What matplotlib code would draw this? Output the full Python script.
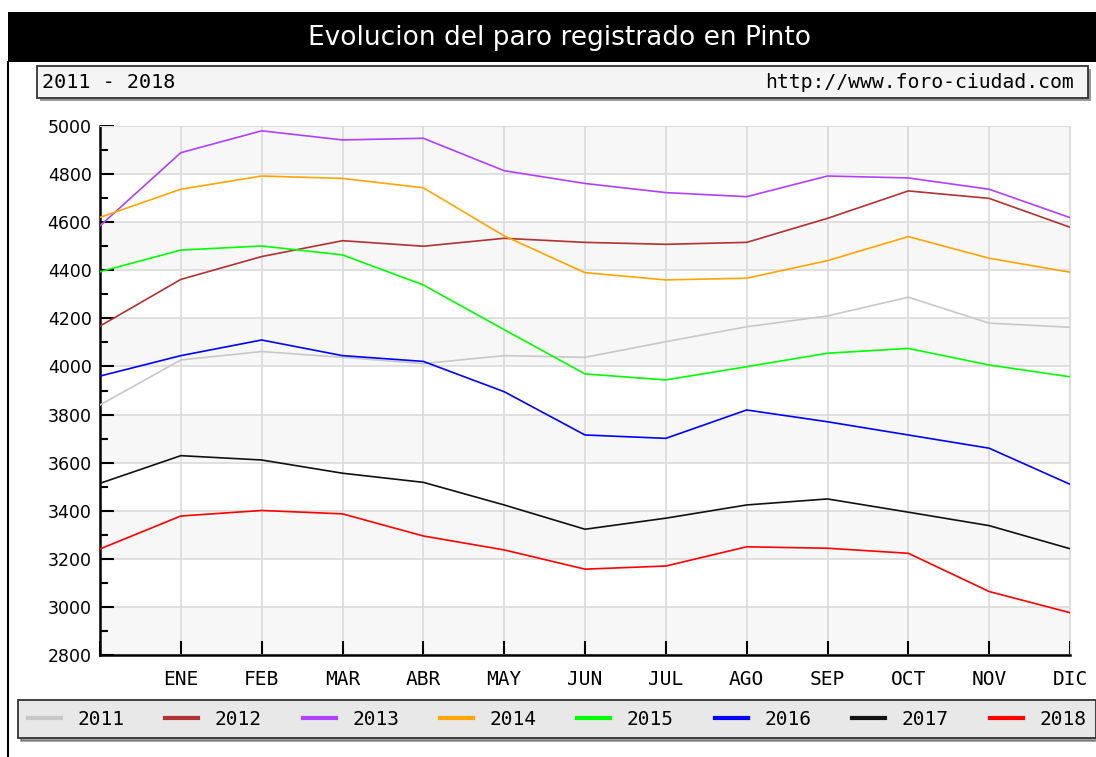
import matplotlib.pyplot as plt
from matplotlib.patches import Rectangle
from matplotlib.lines import Line2D
import numpy as np

W, H = 1096, 757

# datos (punto inicial + ENE..DIC)
meses = ['', 'ENE', 'FEB', 'MAR', 'ABR', 'MAY', 'JUN', 'JUL', 'AGO', 'SEP', 'OCT', 'NOV', 'DIC']
anios = ['2011', '2012', '2013', '2014', '2015', '2016', '2017', '2018']
colores = ['#c8c8c8', '#b03232', '#b040ff', '#ffa500', '#00ff00', '#0000ff', '#111111', '#ff0000']

p2011 = [3840, 4027, 4062, 4038, 4012, 4045, 4038, 4103, 4165, 4210, 4288, 4180, 4163]
p2012 = [4168, 4362, 4457, 4523, 4500, 4533, 4516, 4508, 4516, 4616, 4730, 4699, 4579]
p2013 = [4585, 4889, 4980, 4942, 4949, 4814, 4761, 4723, 4706, 4792, 4784, 4737, 4619]
p2014 = [4620, 4737, 4792, 4782, 4743, 4543, 4390, 4360, 4367, 4440, 4540, 4450, 4392]
p2015 = [4394, 4484, 4501, 4464, 4339, 4153, 3969, 3944, 3999, 4055, 4075, 4006, 3957]
p2016 = [3960, 4045, 4110, 4045, 4021, 3895, 3715, 3701, 3819, 3770, 3715, 3660, 3510]
p2017 = [3514, 3629, 3611, 3556, 3518, 3424, 3323, 3369, 3424, 3449, 3394, 3338, 3242]
p2018 = [3241, 3378, 3401, 3387, 3295, 3237, 3157, 3170, 3250, 3244, 3223, 3064, 2976]
series = [p2011, p2012, p2013, p2014, p2015, p2016, p2017, p2018]

mono = 'DejaVu Sans Mono'

fig = plt.figure(figsize=(W / 100, H / 100), dpi=100)
fig.patch.set_facecolor('white')

def fx(px):
    return px / W

def fy(py):
    return 1 - py / H

# barra del titulo
fig.patches.append(Rectangle((fx(8), fy(62)), fx(W) - fx(8), fy(12) - fy(62),
                             transform=fig.transFigure, facecolor='black',
                             edgecolor='none', zorder=0))
fig.text(fx(560), fy(38), 'Evolucion del paro registrado en Pinto', color='white',
         ha='center', va='center', fontsize=19)
fig.add_artist(Line2D([fx(8), fx(8)], [fy(62), 0], transform=fig.transFigure,
                      color='black', lw=1.5))

# cuadro del subtitulo
fig.patches.append(Rectangle((fx(40), fy(101)), fx(1088) - fx(37), fy(66) - fy(98),
                             transform=fig.transFigure, facecolor='#999999',
                             edgecolor='none', zorder=0))
fig.patches.append(Rectangle((fx(37), fy(98)), fx(1088) - fx(37), fy(66) - fy(98),
                             transform=fig.transFigure, facecolor='#f4f4f4',
                             edgecolor='#333333', lw=1.3, zorder=1))
fig.text(fx(42), fy(82), '2011 - 2018', family=mono, fontsize=14.5, ha='left', va='center')
fig.text(fx(1074), fy(82), 'http://www.foro-ciudad.com', family=mono, fontsize=14.2,
         ha='right', va='center')

# area del grafico
ax = fig.add_axes([fx(100), fy(655), fx(1070) - fx(100), fy(126) - fy(655)])
x = np.arange(len(meses))
for lo in range(2800, 5000, 400):
    ax.axhspan(lo, lo + 200, color='#f7f7f7', zorder=0, lw=0)

for y, c, a in zip(series, colores, anios):
    ax.plot(x, y, color=c, lw=1.2, label=a, zorder=3)

ax.set_xlim(0, 12)
ax.set_ylim(2800, 5000)
ax.set_xticks(x)
ax.set_xticklabels(meses, family=mono, fontsize=14)
ax.set_yticks(np.arange(2800, 5001, 200))
ax.set_yticks(np.arange(2900, 5000, 200), minor=True)
ax.tick_params(axis='y', which='major', direction='in', length=10, width=1.5,
               labelsize=12.5, pad=6)
ax.tick_params(axis='y', which='minor', direction='in', length=6, width=1.5)
ax.tick_params(axis='x', which='major', direction='in', length=10, width=1.5, pad=11)
ax.grid(True, color='#dddddd', lw=1.3, zorder=1)
ax.set_axisbelow(True)
for s in ['top', 'right']:
    ax.spines[s].set_color('#dddddd')
for s in ['left', 'bottom']:
    ax.spines[s].set_linewidth(1.8)

leg = fig.legend(loc='upper left', bbox_to_anchor=(fx(18), fy(700)), ncol=8,
                 prop={'family': mono, 'size': 14}, frameon=True, fancybox=False,
                 shadow=True, handlelength=1.7, handletextpad=0.85, columnspacing=2.1,
                 borderpad=0.5, borderaxespad=0)
leg.get_frame().set_facecolor('#e8e8e8')
leg.get_frame().set_edgecolor('#333333')
leg.get_frame().set_linewidth(1.3)
for h in leg.legend_handles:
    h.set_linewidth(3)

fig.savefig('out.png', dpi=100)
